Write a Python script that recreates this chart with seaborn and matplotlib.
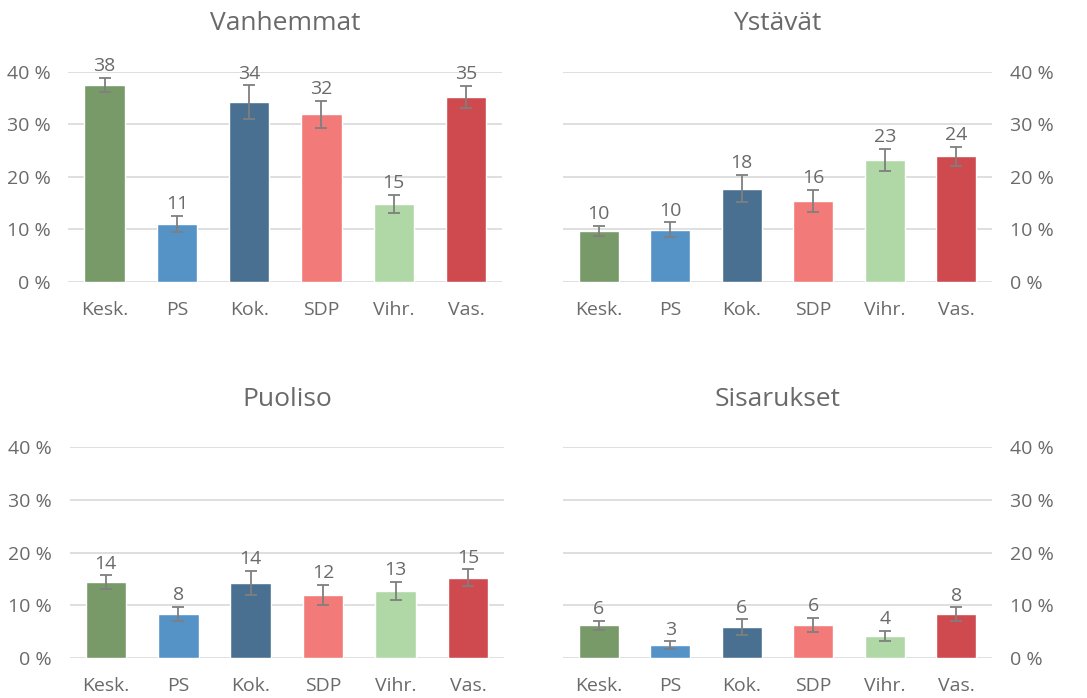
import matplotlib
matplotlib.use("Agg")
import matplotlib.pyplot as plt
import seaborn as sns
import numpy as np
from matplotlib.ticker import FuncFormatter

# --- datos ---
puolueet = ['Kesk.', 'PS', 'Kok.', 'SDP', 'Vihr.', 'Vas.']
varit = ['#779A68', '#5593C7', '#4A7091', '#F27B79', '#AFD8A6', '#CE4A4F']

otsikot = ['Vanhemmat', 'Ystävät', 'Puoliso', 'Sisarukset']

vanhemmat = [37.5, 11.0, 34.2, 31.9, 14.8, 35.2]
vanhemmat_err = [1.3, 1.5, 3.2, 2.6, 1.8, 2.1]
vanhemmat_lbl = ['38', '11', '34', '32', '15', '35']

ystavat = [9.7, 9.9, 17.7, 15.4, 23.2, 23.9]
ystavat_err = [1.0, 1.4, 2.6, 2.1, 2.1, 1.8]
ystavat_lbl = ['10', '10', '18', '16', '23', '24']

puoliso = [14.4, 8.3, 14.2, 11.9, 12.7, 15.2]
puoliso_err = [1.25, 1.3, 2.3, 1.9, 1.7, 1.6]
puoliso_lbl = ['14', '8', '14', '12', '13', '15']

sisarukset = [6.2, 2.4, 5.8, 6.2, 4.1, 8.3]
sisarukset_err = [0.85, 0.7, 1.5, 1.35, 1.0, 1.25]
sisarukset_lbl = ['6', '3', '6', '6', '4', '8']

arvot = [vanhemmat, ystavat, puoliso, sisarukset]
virheet = [vanhemmat_err, ystavat_err, puoliso_err, sisarukset_err]
nimiot = [vanhemmat_lbl, ystavat_lbl, puoliso_lbl, sisarukset_lbl]

# --- estilo ---
sns.set_style('white')
plt.rcParams['font.family'] = ['Open Sans', 'DejaVu Sans']
teksti = '#6A6A6A'
harmaa = '#7F7F7F'

fig = plt.figure(figsize=(10.87, 6.98), dpi=100)

# posiciones de los ejes [izq, abajo, ancho, alto]
paikat = [
    [0.063, 0.5964, 0.399, 0.3009],
    [0.518, 0.5964, 0.3946, 0.3009],
    [0.064, 0.0577, 0.400, 0.3015],
    [0.518, 0.0577, 0.3946, 0.3015],
]

for i in range(4):
    ax = fig.add_axes(paikat[i])
    sns.barplot(x=puolueet, y=arvot[i], hue=puolueet, palette=varit,
                legend=False, width=0.56, errorbar=None, ax=ax, saturation=1)
    ax.errorbar(x=np.arange(len(puolueet)), y=arvot[i], yerr=virheet[i],
                fmt='none', ecolor=harmaa, elinewidth=1.3, capsize=4.5,
                capthick=1.3, zorder=5)
    for j, (v, e) in enumerate(zip(arvot[i], virheet[i])):
        ax.annotate(nimiot[i][j], (j, v + e), xytext=(0, 2),
                    textcoords='offset points', ha='center', va='bottom',
                    fontsize=14, color=teksti, annotation_clip=False)

    ax.set_ylim(0, 40)
    ax.set_xlim(-0.5, 5.5)
    ax.set_yticks([0, 10, 20, 30, 40])
    ax.yaxis.set_major_formatter(FuncFormatter(lambda y, pos: f'{y:.0f} %'))
    ax.grid(axis='y', color='#D9D9D9', linewidth=1.2)
    ax.set_axisbelow(True)
    for s in ax.spines.values():
        s.set_visible(False)
    ax.tick_params(axis='both', length=0, labelsize=14, labelcolor=teksti)
    ax.tick_params(axis='x', pad=14)
    ax.tick_params(axis='y', pad=13)
    if i % 2 == 1:
        ax.yaxis.tick_right()
    ax.set_xlabel('')
    ax.set_ylabel('')
    ax.set_title(otsikot[i], fontsize=19, color=teksti, pad=30)

plt.savefig('out.png', dpi=100)
plt.close()
